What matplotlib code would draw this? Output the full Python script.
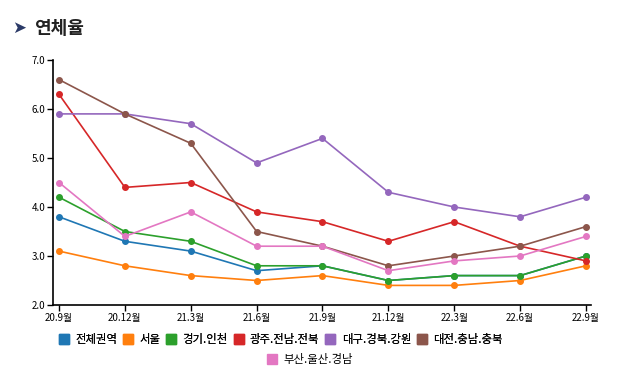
import matplotlib
matplotlib.use("Agg")
import matplotlib.pyplot as plt

plt.rcParams['font.family'] = ['Noto Sans CJK KR', 'DejaVu Sans']

# =========================
# DATA
# =========================

periods = ["20.9월", "20.12월", "21.3월", "21.6월", "21.9월", "21.12월", "22.3월", "22.6월", "22.9월"]

total = [3.8, 3.3, 3.1, 2.7, 2.8, 2.5, 2.6, 2.6, 3.0]
seoul = [3.1, 2.8, 2.6, 2.5, 2.6, 2.4, 2.4, 2.5, 2.8]
gyeonggi = [4.2, 3.5, 3.3, 2.8, 2.8, 2.5, 2.6, 2.6, 3.0]
gwangju = [6.3, 4.4, 4.5, 3.9, 3.7, 3.3, 3.7, 3.2, 2.9]
daegu = [5.9, 5.9, 5.7, 4.9, 5.4, 4.3, 4.0, 3.8, 4.2]
daejeon = [6.6, 5.9, 5.3, 3.5, 3.2, 2.8, 3.0, 3.2, 3.6]
busan = [4.5, 3.4, 3.9, 3.2, 3.2, 2.7, 2.9, 3.0, 3.4]

series_names = ["전체권역", "서울", "경기.인천", "광주.전남.전북", "대구.경북.강원", "대전.충남.충북", "부산.울산.경남"]
series_values = [total, seoul, gyeonggi, gwangju, daegu, daejeon, busan]
colors = ["#1f77b4", "#ff7f0e", "#2ca02c", "#d62728", "#9467bd", "#8c564b", "#e377c2"]

# =========================
# FIGURE
# =========================

W, H = 617, 377
fig = plt.figure(figsize=(W / 100, H / 100), dpi=100)
ax = fig.add_axes([53 / W, 1 - 305 / H, (591 - 53) / W, (305 - 60) / H])

x = list(range(len(periods)))
handles = []
for name, vals, c in zip(series_names, series_values, colors):
    ax.plot(x, vals, color=c, lw=1.2, marker="o", ms=4, label=name)
    handles.append(plt.Line2D([], [], color=c, marker="s", ms=7, lw=0, label=name))

ax.set_xlim(-6 / 65.875, 8 + 5 / 65.875)
ax.set_ylim(2.0, 7.0)
yt = [2.0, 3.0, 4.0, 5.0, 6.0, 7.0]
ax.set_yticks(yt)
ax.set_yticklabels([f"{v:.1f}" for v in yt])
ax.set_xticks(x)
ax.set_xticklabels(periods)
ax.tick_params(labelsize=7, length=4, width=1, colors="black", pad=1.5)
for s in ["top", "right"]:
    ax.spines[s].set_visible(False)
for s in ["left", "bottom"]:
    ax.spines[s].set_linewidth(1.2)

# title
fig.text(12 / W, 1 - 28 / H, "➤", fontsize=12, color="#2b3a67", va="center", ha="left",
         family=["DejaVu Sans"])
fig.text(34 / W, 1 - 29 / H, "연체율", fontsize=13, fontweight="bold", color="#222222",
         va="center", ha="left")

# legend
leg_kw = dict(frameon=False, fontsize=8.2, handlelength=0.8, handletextpad=0.6,
              borderpad=0, borderaxespad=0)
leg1 = fig.legend(handles=handles[:6], loc="center", bbox_to_anchor=(281 / W, 1 - 339 / H),
                  ncol=6, columnspacing=0.55, **leg_kw)
fig.add_artist(leg1)
fig.legend(handles=handles[6:], loc="center", bbox_to_anchor=(310 / W, 1 - 359 / H),
           ncol=1, **leg_kw)

fig.savefig("out.png", dpi=100)
